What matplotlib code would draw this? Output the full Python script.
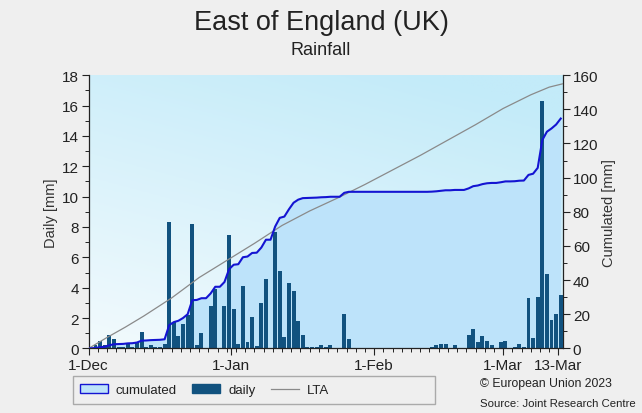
import numpy as np
import matplotlib
matplotlib.use('Agg')
import matplotlib.pyplot as plt
from matplotlib.patches import Patch, Rectangle
from matplotlib.lines import Line2D
from matplotlib.ticker import MultipleLocator

plt.rcParams['font.family'] = ['Liberation Sans', 'DejaVu Sans']

# daily rainfall [mm], 1-Dec .. 13-Mar
daily = [0.05, 0.2, 0.5, 0.2, 0.9, 0.6, 0.1, 0.1, 0.3, 0.1, 0.4, 1.1, 0.1, 0.2, 0.1, 0.1, 0.3,
         8.3, 1.75, 0.8, 1.6, 2.2, 8.2, 0.2, 1.0, 0, 2.8, 3.9, 0, 2.8, 7.5, 2.6, 0.3, 4.1, 0.4, 2.1, 0.15,
         3.0, 4.6, 0, 7.7, 5.1, 0.75, 4.3, 3.8, 1.8, 0.9, 0.1, 0.1, 0.1, 0.2, 0.1, 0.2, 0, 0, 2.3, 0.6,
         0, 0, 0, 0, 0, 0, 0, 0, 0, 0, 0, 0, 0, 0, 0, 0, 0,
         0.1, 0.2, 0.3, 0.3, 0, 0.2, 0, 0, 0.9, 1.3, 0.4, 0.8, 0.5, 0.2, 0, 0.4, 0.5, 0, 0.1, 0.3, 0.1,
         3.3, 0.7, 3.4, 16.3, 4.9, 1.9, 2.3, 3.5]

# long term average, cumulated [mm]
lta_days = [0, 4, 8, 12, 18, 24, 30, 36, 42, 48, 54, 60, 66, 72, 78, 84, 90, 96, 100, 103]
lta_vals = [0, 6.4, 12.5, 19, 29.5, 41.5, 51.5, 61.5, 72, 80.5, 88, 96, 104.5, 113, 122, 131, 140.5, 148.5, 153, 155]

tick_days = [0, 31, 62, 90, 102]
tick_labels = ['1-Dec', '1-Jan', '1-Feb', '1-Mar', '13-Mar']

days = np.arange(len(daily))
cum_x = np.concatenate([[0], days + 0.5])
cum_y = np.concatenate([[0], np.cumsum(daily)])

fig = plt.figure(figsize=(6.42, 4.14), dpi=100)
fig.patch.set_facecolor('#efefef')

rect = [0.138, 0.156, 0.739, 0.660]
ax = fig.add_axes(rect)
ax2 = ax.twinx()
ax3 = ax.twinx()
ax2.set_zorder(1)
ax.set_zorder(2)
ax3.set_zorder(3)
ax.patch.set_visible(False)

# background gradient
gy, gx = np.mgrid[0:1:100j, 0:1:100j]
w = np.clip(0.75 * gy + 0.35 * gx, 0, 1)
top = np.array([195, 235, 249]) / 255
bot = np.array([242, 250, 253]) / 255
img = bot[None, None, :] * (1 - w[..., None]) + top[None, None, :] * w[..., None]
ax2.imshow(img, origin='lower', extent=[0, 1, 0, 1], transform=ax2.transAxes,
           aspect='auto', zorder=0)

ax2.fill_between(cum_x, cum_y, color='#bde3fa', zorder=1, linewidth=0)
ax.bar(days + 0.5, daily, width=0.86, color='#11527f', zorder=2)
ax3.plot(lta_days, lta_vals, color='#8a8a8a', lw=0.9)
ax3.plot(cum_x, cum_y, color='#1414d2', lw=1.5)

for a in (ax, ax2, ax3):
    a.set_xlim(0, 103)
    for s in a.spines.values():
        s.set_visible(False)
ax.set_ylim(0, 18)
ax2.set_ylim(0, 160)
ax3.set_ylim(0, 160)
ax3.axis('off')

ax.spines['left'].set_visible(True)
ax.spines['bottom'].set_visible(True)
ax2.spines['right'].set_visible(True)
for s in (ax.spines['left'], ax.spines['bottom'], ax2.spines['right']):
    s.set_color('#222222')
    s.set_linewidth(0.9)

ax.yaxis.set_major_locator(MultipleLocator(2))
ax.yaxis.set_minor_locator(MultipleLocator(1))
ax2.yaxis.set_major_locator(MultipleLocator(20))
ax2.yaxis.set_minor_locator(MultipleLocator(10))
ax.set_xticks(tick_days)
ax.set_xticklabels(tick_labels)
ax.xaxis.set_minor_locator(MultipleLocator(2))

for a in (ax, ax2):
    a.tick_params(which='major', length=5, width=0.8, labelsize=11, colors='#222222', pad=2)
    a.tick_params(which='minor', length=3, width=0.7, colors='#222222')

ax.set_ylabel('Daily [mm]', fontsize=10.5, color='#333333', labelpad=3)
ax2.set_ylabel('Cumulated [mm]', fontsize=10.5, color='#333333', labelpad=3)

fig.text(0.5, 0.945, 'East of England (UK)', ha='center', va='center', fontsize=19.5, color='#222222')
fig.text(0.5, 0.878, 'Rainfall', ha='center', va='center', fontsize=13, color='#222222')

# legend box
fig.patches.append(Rectangle((73 / 642, 1 - 405 / 414), 362 / 642, 28 / 414,
                             transform=fig.transFigure, facecolor='#efefef',
                             edgecolor='#aaaaaa', lw=1.0))
handles = [Patch(facecolor='#bde3fa', edgecolor='#1414d2', lw=1.0),
           Patch(facecolor='#11527f', edgecolor='#11527f'),
           Line2D([0], [0], color='#8a8a8a', lw=0.9)]
fig.legend(handles, ['cumulated', 'daily', 'LTA'], ncol=3, frameon=False,
           loc='center left', bbox_to_anchor=(68 / 642, 1 - 391 / 414),
           fontsize=9.5, handlelength=2.1, handleheight=0.6, columnspacing=1.2,
           handletextpad=0.6, labelcolor='#222222')

fig.text(480 / 642, 1 - 384 / 414, '\u00a9 European Union 2023', fontsize=8.8,
         va='center', color='#222222')
fig.text(480 / 642, 1 - 404 / 414, 'Source: Joint Research Centre', fontsize=8.2,
         va='center', color='#222222')

fig.savefig('out.png', dpi=100, facecolor=fig.get_facecolor())
